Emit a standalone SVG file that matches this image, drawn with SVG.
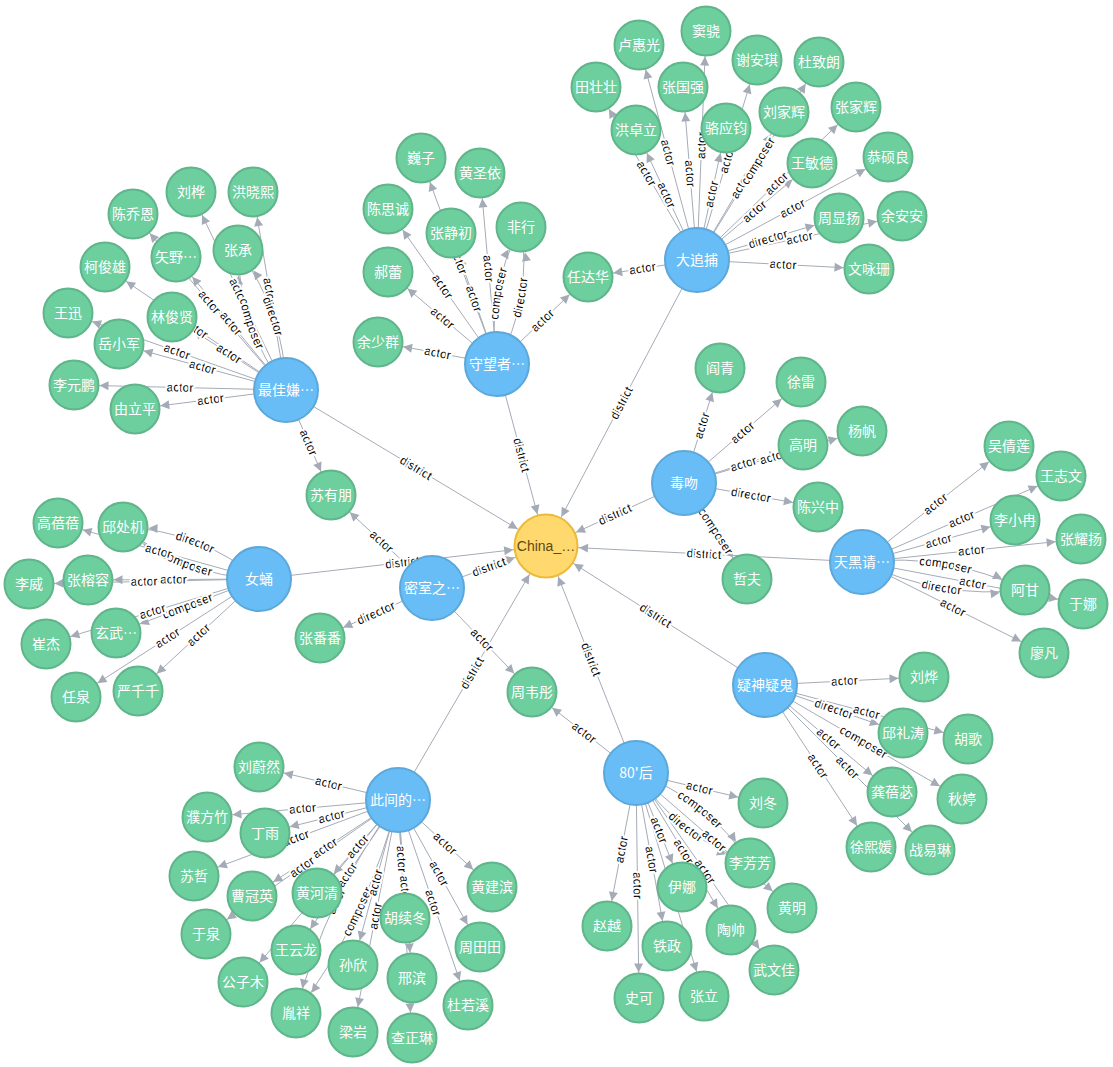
<svg xmlns="http://www.w3.org/2000/svg" width="1113" height="1067" viewBox="0 0 1113 1067">
<style>
.l{fill:none;stroke:#A5ABB6;stroke-width:1}
.g{marker-end:url(#ag)}
.gs{marker-start:url(#ag)}
.c{marker-end:url(#ac)}
.cs{marker-start:url(#ac)}
.t{font-family:"Liberation Sans",Arial,sans-serif;font-size:12px;fill:#000;stroke:#fff;stroke-width:4;stroke-linejoin:round;paint-order:stroke}
.gn circle{fill:#6DCE9E;stroke:#60B58B;stroke-width:2}
.bn circle{fill:#68BDF6;stroke:#5CA8DB;stroke-width:2}
.cn circle{fill:#FFD86E;stroke:#EDBA39;stroke-width:2}
.nd text{font-family:"Noto Sans CJK SC","Liberation Sans",sans-serif;font-size:14px;fill:#fff;text-anchor:middle}
.cn text{fill:#604A0E;font-family:"Liberation Sans","Noto Sans CJK SC",sans-serif}
</style>
<defs>
<marker id="ag" markerUnits="userSpaceOnUse" orient="auto-start-reverse" refX="25.5" refY="0" markerWidth="20" markerHeight="20" style="overflow:visible"><path d="M-9,-4.5L0,0L-9,4.5Z" fill="#A5ABB6"/></marker>
<marker id="ac" markerUnits="userSpaceOnUse" orient="auto-start-reverse" refX="33" refY="0" markerWidth="20" markerHeight="20" style="overflow:visible"><path d="M-9,-4.5L0,0L-9,4.5Z" fill="#A5ABB6"/></marker>
</defs>
<g id="connectors">
<g id="lines" class="l">
<path id="e1" class="gs" d="M588,277L697,260"/>
<path id="e2" class="gs" d="M596,87L697,260"/>
<path id="e3" class="gs" d="M636,130L697,260"/>
<path id="e4" class="gs" d="M639,45L697,260"/>
<path id="e5" class="gs" d="M683,87L697,260"/>
<path id="e6" class="g" d="M697,260L706,31"/>
<path id="e7" class="g" d="M697,260L726,128"/>
<path id="e8" class="g" d="M697,260L757,60"/>
<path id="e9" class="g" d="M697,260L784,112"/>
<path id="e10" class="g" d="M697,260L819,62"/>
<path id="e11" class="g" d="M697,260L812,163"/>
<path id="e12" class="g" d="M697,260L856,107"/>
<path id="e13" class="g" d="M697,260L888,157"/>
<path id="e14" class="g" d="M697,260L839,218"/>
<path id="e15" class="g" d="M697,260L902,216"/>
<path id="e16" class="g" d="M697,260L869,269"/>
<path id="e17" class="cs" d="M546,546L697,260"/>
<path id="e18" class="gs" d="M378,342L497,364"/>
<path id="e19" class="gs" d="M388,272L497,364"/>
<path id="e20" class="gs" d="M388,209L497,364"/>
<path id="e21" class="gs" d="M451,233L497,364"/>
<path id="e22" class="gs" d="M421,158L497,364"/>
<path id="e23" class="gs" d="M480,173L497,364"/>
<path id="e24" class="g" d="M497,364Q485.4,291.4 521,227"/>
<path id="e25" class="g" d="M497,364Q532.6,299.6 521,227"/>
<path id="e26" class="g" d="M497,364L588,277"/>
<path id="e27" class="c" d="M497,364L546,546"/>
<path id="e28" class="gs" d="M191,192L286,390"/>
<path id="e29" class="gs" d="M253,192L286,390"/>
<path id="e30" class="gs" d="M238,250Q239.3,327.8 286,390"/>
<path id="e31" class="gs" d="M238,250Q284.7,312.2 286,390"/>
<path id="e32" class="gs" d="M133,214L286,390"/>
<path id="e33" class="gs" d="M176,257L286,390"/>
<path id="e34" class="gs" d="M105,267L286,390"/>
<path id="e35" class="gs" d="M172,317L286,390"/>
<path id="e36" class="gs" d="M68,313L286,390"/>
<path id="e37" class="gs" d="M119,344L286,390"/>
<path id="e38" class="gs" d="M74,385L286,390"/>
<path id="e39" class="gs" d="M135,409L286,390"/>
<path id="e40" class="g" d="M286,390L331,495"/>
<path id="e41" class="c" d="M286,390L546,546"/>
<path id="e42" class="gs" d="M123,527Q199.6,530.6 259,579"/>
<path id="e43" class="gs" d="M123,527Q182.4,575.4 259,579"/>
<path id="e44" class="gs" d="M58,523L259,579"/>
<path id="e45" class="gs" d="M88,580L259,579"/>
<path id="e46" class="gs" d="M29,584L259,579"/>
<path id="e47" class="gs" d="M116,633L259,579"/>
<path id="e48" class="gs" d="M46,644L259,579"/>
<path id="e49" class="gs" d="M76,697L259,579"/>
<path id="e50" class="gs" d="M138,691L259,579"/>
<path id="e51" class="c" d="M259,579L546,546"/>
<path id="e52" class="gs" d="M331,495L432,588"/>
<path id="e53" class="gs" d="M320,638L432,588"/>
<path id="e54" class="g" d="M432,588L532,692"/>
<path id="e55" class="c" d="M432,588L546,546"/>
<path id="e56" class="g" d="M684,483L720,368"/>
<path id="e57" class="g" d="M684,483L801,382"/>
<path id="e58" class="g" d="M684,483L803,445"/>
<path id="e59" class="g" d="M684,483L862,431"/>
<path id="e60" class="g" d="M684,483L818,507"/>
<path id="e61" class="g" d="M684,483L747,579"/>
<path id="e62" class="cs" d="M546,546L684,483"/>
<path id="e63" class="g" d="M862,562L1009,446"/>
<path id="e64" class="g" d="M862,562L1061,476"/>
<path id="e65" class="g" d="M862,562L1015,520"/>
<path id="e66" class="g" d="M862,562L1081,539"/>
<path id="e67" class="g" d="M862,562Q947.6,552.4 1025,590"/>
<path id="e68" class="g" d="M862,562Q939.4,599.6 1025,590"/>
<path id="e69" class="g" d="M862,562L1083,604"/>
<path id="e70" class="g" d="M862,562L1044,653"/>
<path id="e71" class="cs" d="M546,546L862,562"/>
<path id="e72" class="g" d="M765,685L924,677"/>
<path id="e73" class="g" d="M765,685L903,733"/>
<path id="e74" class="g" d="M765,685L968,739"/>
<path id="e75" class="g" d="M765,685L962,799"/>
<path id="e76" class="g" d="M765,685L892,792"/>
<path id="e77" class="g" d="M765,685L930,850"/>
<path id="e78" class="g" d="M765,685L871,847"/>
<path id="e79" class="cs" d="M546,546L765,685"/>
<path id="e80" class="gs" d="M532,692L636,773"/>
<path id="e81" class="g" d="M636,773L763,803"/>
<path id="e82" class="g" d="M636,773Q707.9,799.2 750,863"/>
<path id="e83" class="g" d="M636,773Q678.1,836.8 750,863"/>
<path id="e84" class="g" d="M636,773L792,908"/>
<path id="e85" class="g" d="M636,773L682,887"/>
<path id="e86" class="g" d="M636,773L704,996"/>
<path id="e87" class="g" d="M636,773L731,930"/>
<path id="e88" class="g" d="M636,773L774,970"/>
<path id="e89" class="gs" d="M607,926L636,773"/>
<path id="e90" class="g" d="M636,773L667,946"/>
<path id="e91" class="g" d="M636,773L639,998"/>
<path id="e92" class="cs" d="M546,546L636,773"/>
<path id="e93" class="gs" d="M259,767L398,800"/>
<path id="e94" class="gs" d="M207,817L398,800"/>
<path id="e95" class="gs" d="M265,833L398,800"/>
<path id="e96" class="gs" d="M194,876L398,800"/>
<path id="e97" class="gs" d="M252,896L398,800"/>
<path id="e98" class="gs" d="M206,934L398,800"/>
<path id="e99" class="gs" d="M317,893L398,800"/>
<path id="e100" class="gs" d="M296,950L398,800"/>
<path id="e101" class="gs" d="M243,982L398,800"/>
<path id="e102" class="gs" d="M296,1013Q325.4,896.1 398,800"/>
<path id="e103" class="gs" d="M296,1013Q368.6,916.9 398,800"/>
<path id="e104" class="gs" d="M353,965L398,800"/>
<path id="e105" class="gs" d="M353,1032L398,800"/>
<path id="e106" class="g" d="M398,800L405,918"/>
<path id="e107" class="g" d="M398,800L412,978"/>
<path id="e108" class="g" d="M398,800L412,1038"/>
<path id="e109" class="g" d="M398,800L468,1005"/>
<path id="e110" class="g" d="M398,800L480,947"/>
<path id="e111" class="g" d="M398,800L492,887"/>
<path id="e112" class="c" d="M398,800L546,546"/>
</g>
<g id="labels" class="t">
<text dy="4"><textPath href="#e1" startOffset="50%" text-anchor="middle">actor</textPath></text>
<text dy="4"><textPath href="#e2" startOffset="50%" text-anchor="middle">actor</textPath></text>
<text dy="4"><textPath href="#e3" startOffset="50%" text-anchor="middle">actor</textPath></text>
<text dy="4"><textPath href="#e4" startOffset="50%" text-anchor="middle">actor</textPath></text>
<text dy="4"><textPath href="#e5" startOffset="50%" text-anchor="middle">actor</textPath></text>
<text dy="4"><textPath href="#e6" startOffset="50%" text-anchor="middle">actor</textPath></text>
<text dy="4"><textPath href="#e7" startOffset="50%" text-anchor="middle">actor</textPath></text>
<text dy="4"><textPath href="#e8" startOffset="50%" text-anchor="middle">actor</textPath></text>
<text dy="4"><textPath href="#e9" startOffset="50%" text-anchor="middle">actor</textPath></text>
<text dy="4"><textPath href="#e10" startOffset="50%" text-anchor="middle">composer</textPath></text>
<text dy="4"><textPath href="#e11" startOffset="50%" text-anchor="middle">actor</textPath></text>
<text dy="4"><textPath href="#e12" startOffset="50%" text-anchor="middle">actor</textPath></text>
<text dy="4"><textPath href="#e13" startOffset="50%" text-anchor="middle">actor</textPath></text>
<text dy="4"><textPath href="#e14" startOffset="50%" text-anchor="middle">director</textPath></text>
<text dy="4"><textPath href="#e15" startOffset="50%" text-anchor="middle">actor</textPath></text>
<text dy="4"><textPath href="#e16" startOffset="50%" text-anchor="middle">actor</textPath></text>
<text dy="4"><textPath href="#e17" startOffset="50%" text-anchor="middle">district</textPath></text>
<text dy="4"><textPath href="#e18" startOffset="50%" text-anchor="middle">actor</textPath></text>
<text dy="4"><textPath href="#e19" startOffset="50%" text-anchor="middle">actor</textPath></text>
<text dy="4"><textPath href="#e20" startOffset="50%" text-anchor="middle">actor</textPath></text>
<text dy="4"><textPath href="#e21" startOffset="50%" text-anchor="middle">actor</textPath></text>
<text dy="4"><textPath href="#e22" startOffset="50%" text-anchor="middle">actor</textPath></text>
<text dy="4"><textPath href="#e23" startOffset="50%" text-anchor="middle">actor</textPath></text>
<text dy="4"><textPath href="#e24" startOffset="50%" text-anchor="middle">composer</textPath></text>
<text dy="4"><textPath href="#e25" startOffset="50%" text-anchor="middle">director</textPath></text>
<text dy="4"><textPath href="#e26" startOffset="50%" text-anchor="middle">actor</textPath></text>
<text dy="4"><textPath href="#e27" startOffset="50%" text-anchor="middle">district</textPath></text>
<text dy="4"><textPath href="#e28" startOffset="50%" text-anchor="middle">actor</textPath></text>
<text dy="4"><textPath href="#e29" startOffset="50%" text-anchor="middle">actor</textPath></text>
<text dy="4"><textPath href="#e30" startOffset="50%" text-anchor="middle">composer</textPath></text>
<text dy="4"><textPath href="#e31" startOffset="50%" text-anchor="middle">director</textPath></text>
<text dy="4"><textPath href="#e32" startOffset="50%" text-anchor="middle">actor</textPath></text>
<text dy="4"><textPath href="#e33" startOffset="50%" text-anchor="middle">actor</textPath></text>
<text dy="4"><textPath href="#e34" startOffset="50%" text-anchor="middle">actor</textPath></text>
<text dy="4"><textPath href="#e35" startOffset="50%" text-anchor="middle">actor</textPath></text>
<text dy="4"><textPath href="#e36" startOffset="50%" text-anchor="middle">actor</textPath></text>
<text dy="4"><textPath href="#e37" startOffset="50%" text-anchor="middle">actor</textPath></text>
<text dy="4"><textPath href="#e38" startOffset="50%" text-anchor="middle">actor</textPath></text>
<text dy="4"><textPath href="#e39" startOffset="50%" text-anchor="middle">actor</textPath></text>
<text dy="4"><textPath href="#e40" startOffset="50%" text-anchor="middle">actor</textPath></text>
<text dy="4"><textPath href="#e41" startOffset="50%" text-anchor="middle">district</textPath></text>
<text dy="4"><textPath href="#e42" startOffset="50%" text-anchor="middle">director</textPath></text>
<text dy="4"><textPath href="#e43" startOffset="50%" text-anchor="middle">composer</textPath></text>
<text dy="4"><textPath href="#e44" startOffset="50%" text-anchor="middle">actor</textPath></text>
<text dy="4"><textPath href="#e45" startOffset="50%" text-anchor="middle">actor</textPath></text>
<text dy="4"><textPath href="#e46" startOffset="50%" text-anchor="middle">actor</textPath></text>
<text dy="4"><textPath href="#e47" startOffset="50%" text-anchor="middle">composer</textPath></text>
<text dy="4"><textPath href="#e48" startOffset="50%" text-anchor="middle">actor</textPath></text>
<text dy="4"><textPath href="#e49" startOffset="50%" text-anchor="middle">actor</textPath></text>
<text dy="4"><textPath href="#e50" startOffset="50%" text-anchor="middle">actor</textPath></text>
<text dy="4"><textPath href="#e51" startOffset="50%" text-anchor="middle">district</textPath></text>
<text dy="4"><textPath href="#e52" startOffset="50%" text-anchor="middle">actor</textPath></text>
<text dy="4"><textPath href="#e53" startOffset="50%" text-anchor="middle">director</textPath></text>
<text dy="4"><textPath href="#e54" startOffset="50%" text-anchor="middle">actor</textPath></text>
<text dy="4"><textPath href="#e55" startOffset="50%" text-anchor="middle">district</textPath></text>
<text dy="4"><textPath href="#e56" startOffset="50%" text-anchor="middle">actor</textPath></text>
<text dy="4"><textPath href="#e57" startOffset="50%" text-anchor="middle">actor</textPath></text>
<text dy="4"><textPath href="#e58" startOffset="50%" text-anchor="middle">actor</textPath></text>
<text dy="4"><textPath href="#e59" startOffset="50%" text-anchor="middle">actor</textPath></text>
<text dy="4"><textPath href="#e60" startOffset="50%" text-anchor="middle">director</textPath></text>
<text dy="4"><textPath href="#e61" startOffset="50%" text-anchor="middle">composer</textPath></text>
<text dy="4"><textPath href="#e62" startOffset="50%" text-anchor="middle">district</textPath></text>
<text dy="4"><textPath href="#e63" startOffset="50%" text-anchor="middle">actor</textPath></text>
<text dy="4"><textPath href="#e64" startOffset="50%" text-anchor="middle">actor</textPath></text>
<text dy="4"><textPath href="#e65" startOffset="50%" text-anchor="middle">actor</textPath></text>
<text dy="4"><textPath href="#e66" startOffset="50%" text-anchor="middle">actor</textPath></text>
<text dy="4"><textPath href="#e67" startOffset="50%" text-anchor="middle">composer</textPath></text>
<text dy="4"><textPath href="#e68" startOffset="50%" text-anchor="middle">director</textPath></text>
<text dy="4"><textPath href="#e69" startOffset="50%" text-anchor="middle">actor</textPath></text>
<text dy="4"><textPath href="#e70" startOffset="50%" text-anchor="middle">actor</textPath></text>
<text dy="4"><textPath href="#e71" startOffset="50%" text-anchor="middle">district</textPath></text>
<text dy="4"><textPath href="#e72" startOffset="50%" text-anchor="middle">actor</textPath></text>
<text dy="4"><textPath href="#e73" startOffset="50%" text-anchor="middle">director</textPath></text>
<text dy="4"><textPath href="#e74" startOffset="50%" text-anchor="middle">actor</textPath></text>
<text dy="4"><textPath href="#e75" startOffset="50%" text-anchor="middle">composer</textPath></text>
<text dy="4"><textPath href="#e76" startOffset="50%" text-anchor="middle">actor</textPath></text>
<text dy="4"><textPath href="#e77" startOffset="50%" text-anchor="middle">actor</textPath></text>
<text dy="4"><textPath href="#e78" startOffset="50%" text-anchor="middle">actor</textPath></text>
<text dy="4"><textPath href="#e79" startOffset="50%" text-anchor="middle">district</textPath></text>
<text dy="4"><textPath href="#e80" startOffset="50%" text-anchor="middle">actor</textPath></text>
<text dy="4"><textPath href="#e81" startOffset="50%" text-anchor="middle">actor</textPath></text>
<text dy="4"><textPath href="#e82" startOffset="50%" text-anchor="middle">composer</textPath></text>
<text dy="4"><textPath href="#e83" startOffset="50%" text-anchor="middle">director</textPath></text>
<text dy="4"><textPath href="#e84" startOffset="50%" text-anchor="middle">actor</textPath></text>
<text dy="4"><textPath href="#e85" startOffset="50%" text-anchor="middle">actor</textPath></text>
<text dy="4"><textPath href="#e86" startOffset="50%" text-anchor="middle">actor</textPath></text>
<text dy="4"><textPath href="#e87" startOffset="50%" text-anchor="middle">actor</textPath></text>
<text dy="4"><textPath href="#e88" startOffset="50%" text-anchor="middle">actor</textPath></text>
<text dy="4"><textPath href="#e89" startOffset="50%" text-anchor="middle">actor</textPath></text>
<text dy="4"><textPath href="#e90" startOffset="50%" text-anchor="middle">actor</textPath></text>
<text dy="4"><textPath href="#e91" startOffset="50%" text-anchor="middle">actor</textPath></text>
<text dy="4"><textPath href="#e92" startOffset="50%" text-anchor="middle">district</textPath></text>
<text dy="4"><textPath href="#e93" startOffset="50%" text-anchor="middle">actor</textPath></text>
<text dy="4"><textPath href="#e94" startOffset="50%" text-anchor="middle">actor</textPath></text>
<text dy="4"><textPath href="#e95" startOffset="50%" text-anchor="middle">actor</textPath></text>
<text dy="4"><textPath href="#e96" startOffset="50%" text-anchor="middle">actor</textPath></text>
<text dy="4"><textPath href="#e97" startOffset="50%" text-anchor="middle">actor</textPath></text>
<text dy="4"><textPath href="#e98" startOffset="50%" text-anchor="middle">actor</textPath></text>
<text dy="4"><textPath href="#e99" startOffset="50%" text-anchor="middle">actor</textPath></text>
<text dy="4"><textPath href="#e100" startOffset="50%" text-anchor="middle">actor</textPath></text>
<text dy="4"><textPath href="#e101" startOffset="50%" text-anchor="middle">actor</textPath></text>
<text dy="4"><textPath href="#e102" startOffset="50%" text-anchor="middle">actor</textPath></text>
<text dy="4"><textPath href="#e103" startOffset="50%" text-anchor="middle">composer</textPath></text>
<text dy="4"><textPath href="#e104" startOffset="50%" text-anchor="middle">actor</textPath></text>
<text dy="4"><textPath href="#e105" startOffset="50%" text-anchor="middle">actor</textPath></text>
<text dy="4"><textPath href="#e106" startOffset="50%" text-anchor="middle">actor</textPath></text>
<text dy="4"><textPath href="#e107" startOffset="50%" text-anchor="middle">actor</textPath></text>
<text dy="4"><textPath href="#e108" startOffset="50%" text-anchor="middle">actor</textPath></text>
<text dy="4"><textPath href="#e109" startOffset="50%" text-anchor="middle">actor</textPath></text>
<text dy="4"><textPath href="#e110" startOffset="50%" text-anchor="middle">actor</textPath></text>
<text dy="4"><textPath href="#e111" startOffset="50%" text-anchor="middle">actor</textPath></text>
<text dy="4"><textPath href="#e112" startOffset="50%" text-anchor="middle">district</textPath></text>
</g>
</g>
<g id="nodes">
<g id="china" class="nd cn" transform="translate(546,546)"><circle r="31.5"/><text dy="5">China_…</text></g>
<g id="b1" class="nd bn" transform="translate(697,260)"><circle r="32"/><text dy=".36em">大追捕</text></g>
<g id="b2" class="nd bn" transform="translate(497,364)"><circle r="32"/><text dy=".36em">守望者…</text></g>
<g id="b3" class="nd bn" transform="translate(286,390)"><circle r="32"/><text dy=".36em">最佳嫌…</text></g>
<g id="b4" class="nd bn" transform="translate(684,483)"><circle r="32"/><text dy=".36em">毒吻</text></g>
<g id="b5" class="nd bn" transform="translate(862,562)"><circle r="32"/><text dy=".36em">天黑请…</text></g>
<g id="b6" class="nd bn" transform="translate(259,579)"><circle r="32"/><text dy=".36em">女蛹</text></g>
<g id="b7" class="nd bn" transform="translate(432,588)"><circle r="32"/><text dy=".36em">密室之…</text></g>
<g id="b8" class="nd bn" transform="translate(765,685)"><circle r="32"/><text dy=".36em">疑神疑鬼</text></g>
<g id="b9" class="nd bn" transform="translate(636,773)"><circle r="32"/><text dy=".36em">80'后</text></g>
<g id="b10" class="nd bn" transform="translate(398,800)"><circle r="32"/><text dy=".36em">此间的…</text></g>
<g id="g1" class="nd gn" transform="translate(588,277)"><circle r="24.5"/><text dy=".36em">任达华</text></g>
<g id="g2" class="nd gn" transform="translate(596,87)"><circle r="24.5"/><text dy=".36em">田壮壮</text></g>
<g id="g3" class="nd gn" transform="translate(636,130)"><circle r="24.5"/><text dy=".36em">洪卓立</text></g>
<g id="g4" class="nd gn" transform="translate(639,45)"><circle r="24.5"/><text dy=".36em">卢惠光</text></g>
<g id="g5" class="nd gn" transform="translate(683,87)"><circle r="24.5"/><text dy=".36em">张国强</text></g>
<g id="g6" class="nd gn" transform="translate(706,31)"><circle r="24.5"/><text dy=".36em">窦骁</text></g>
<g id="g7" class="nd gn" transform="translate(726,128)"><circle r="24.5"/><text dy=".36em">骆应钧</text></g>
<g id="g8" class="nd gn" transform="translate(757,60)"><circle r="24.5"/><text dy=".36em">谢安琪</text></g>
<g id="g9" class="nd gn" transform="translate(784,112)"><circle r="24.5"/><text dy=".36em">刘家辉</text></g>
<g id="g10" class="nd gn" transform="translate(819,62)"><circle r="24.5"/><text dy=".36em">杜致朗</text></g>
<g id="g11" class="nd gn" transform="translate(812,163)"><circle r="24.5"/><text dy=".36em">王敏德</text></g>
<g id="g12" class="nd gn" transform="translate(856,107)"><circle r="24.5"/><text dy=".36em">张家辉</text></g>
<g id="g13" class="nd gn" transform="translate(888,157)"><circle r="24.5"/><text dy=".36em">恭硕良</text></g>
<g id="g14" class="nd gn" transform="translate(839,218)"><circle r="24.5"/><text dy=".36em">周显扬</text></g>
<g id="g15" class="nd gn" transform="translate(902,216)"><circle r="24.5"/><text dy=".36em">余安安</text></g>
<g id="g16" class="nd gn" transform="translate(869,269)"><circle r="24.5"/><text dy=".36em">文咏珊</text></g>
<g id="g17" class="nd gn" transform="translate(378,342)"><circle r="24.5"/><text dy=".36em">余少群</text></g>
<g id="g18" class="nd gn" transform="translate(388,272)"><circle r="24.5"/><text dy=".36em">郝蕾</text></g>
<g id="g19" class="nd gn" transform="translate(388,209)"><circle r="24.5"/><text dy=".36em">陈思诚</text></g>
<g id="g20" class="nd gn" transform="translate(451,233)"><circle r="24.5"/><text dy=".36em">张静初</text></g>
<g id="g21" class="nd gn" transform="translate(421,158)"><circle r="24.5"/><text dy=".36em">巍子</text></g>
<g id="g22" class="nd gn" transform="translate(480,173)"><circle r="24.5"/><text dy=".36em">黄圣依</text></g>
<g id="g23" class="nd gn" transform="translate(521,227)"><circle r="24.5"/><text dy=".36em">非行</text></g>
<g id="g24" class="nd gn" transform="translate(191,192)"><circle r="24.5"/><text dy=".36em">刘桦</text></g>
<g id="g25" class="nd gn" transform="translate(253,192)"><circle r="24.5"/><text dy=".36em">洪晓熙</text></g>
<g id="g26" class="nd gn" transform="translate(238,250)"><circle r="24.5"/><text dy=".36em">张承</text></g>
<g id="g27" class="nd gn" transform="translate(133,214)"><circle r="24.5"/><text dy=".36em">陈乔恩</text></g>
<g id="g28" class="nd gn" transform="translate(176,257)"><circle r="24.5"/><text dy=".36em">矢野…</text></g>
<g id="g29" class="nd gn" transform="translate(105,267)"><circle r="24.5"/><text dy=".36em">柯俊雄</text></g>
<g id="g30" class="nd gn" transform="translate(172,317)"><circle r="24.5"/><text dy=".36em">林俊贤</text></g>
<g id="g31" class="nd gn" transform="translate(68,313)"><circle r="24.5"/><text dy=".36em">王迅</text></g>
<g id="g32" class="nd gn" transform="translate(119,344)"><circle r="24.5"/><text dy=".36em">岳小军</text></g>
<g id="g33" class="nd gn" transform="translate(74,385)"><circle r="24.5"/><text dy=".36em">李元鹏</text></g>
<g id="g34" class="nd gn" transform="translate(135,409)"><circle r="24.5"/><text dy=".36em">由立平</text></g>
<g id="g35" class="nd gn" transform="translate(331,495)"><circle r="24.5"/><text dy=".36em">苏有朋</text></g>
<g id="g36" class="nd gn" transform="translate(123,527)"><circle r="24.5"/><text dy=".36em">邱处机</text></g>
<g id="g37" class="nd gn" transform="translate(58,523)"><circle r="24.5"/><text dy=".36em">高蓓蓓</text></g>
<g id="g38" class="nd gn" transform="translate(88,580)"><circle r="24.5"/><text dy=".36em">张榕容</text></g>
<g id="g39" class="nd gn" transform="translate(29,584)"><circle r="24.5"/><text dy=".36em">李威</text></g>
<g id="g40" class="nd gn" transform="translate(116,633)"><circle r="24.5"/><text dy=".36em">玄武…</text></g>
<g id="g41" class="nd gn" transform="translate(46,644)"><circle r="24.5"/><text dy=".36em">崔杰</text></g>
<g id="g42" class="nd gn" transform="translate(76,697)"><circle r="24.5"/><text dy=".36em">任泉</text></g>
<g id="g43" class="nd gn" transform="translate(138,691)"><circle r="24.5"/><text dy=".36em">严千千</text></g>
<g id="g44" class="nd gn" transform="translate(320,638)"><circle r="24.5"/><text dy=".36em">张番番</text></g>
<g id="g45" class="nd gn" transform="translate(532,692)"><circle r="24.5"/><text dy=".36em">周韦彤</text></g>
<g id="g46" class="nd gn" transform="translate(720,368)"><circle r="24.5"/><text dy=".36em">阎青</text></g>
<g id="g47" class="nd gn" transform="translate(801,382)"><circle r="24.5"/><text dy=".36em">徐雷</text></g>
<g id="g48" class="nd gn" transform="translate(803,445)"><circle r="24.5"/><text dy=".36em">高明</text></g>
<g id="g49" class="nd gn" transform="translate(862,431)"><circle r="24.5"/><text dy=".36em">杨帆</text></g>
<g id="g50" class="nd gn" transform="translate(818,507)"><circle r="24.5"/><text dy=".36em">陈兴中</text></g>
<g id="g51" class="nd gn" transform="translate(747,579)"><circle r="24.5"/><text dy=".36em">哲夫</text></g>
<g id="g52" class="nd gn" transform="translate(1009,446)"><circle r="24.5"/><text dy=".36em">吴倩莲</text></g>
<g id="g53" class="nd gn" transform="translate(1061,476)"><circle r="24.5"/><text dy=".36em">王志文</text></g>
<g id="g54" class="nd gn" transform="translate(1015,520)"><circle r="24.5"/><text dy=".36em">李小冉</text></g>
<g id="g55" class="nd gn" transform="translate(1081,539)"><circle r="24.5"/><text dy=".36em">张耀扬</text></g>
<g id="g56" class="nd gn" transform="translate(1025,590)"><circle r="24.5"/><text dy=".36em">阿甘</text></g>
<g id="g57" class="nd gn" transform="translate(1083,604)"><circle r="24.5"/><text dy=".36em">于娜</text></g>
<g id="g58" class="nd gn" transform="translate(1044,653)"><circle r="24.5"/><text dy=".36em">廖凡</text></g>
<g id="g59" class="nd gn" transform="translate(924,677)"><circle r="24.5"/><text dy=".36em">刘烨</text></g>
<g id="g60" class="nd gn" transform="translate(903,733)"><circle r="24.5"/><text dy=".36em">邱礼涛</text></g>
<g id="g61" class="nd gn" transform="translate(968,739)"><circle r="24.5"/><text dy=".36em">胡歌</text></g>
<g id="g62" class="nd gn" transform="translate(892,792)"><circle r="24.5"/><text dy=".36em">龚蓓苾</text></g>
<g id="g63" class="nd gn" transform="translate(962,799)"><circle r="24.5"/><text dy=".36em">秋婷</text></g>
<g id="g64" class="nd gn" transform="translate(871,847)"><circle r="24.5"/><text dy=".36em">徐熙媛</text></g>
<g id="g65" class="nd gn" transform="translate(930,850)"><circle r="24.5"/><text dy=".36em">战易琳</text></g>
<g id="g66" class="nd gn" transform="translate(763,803)"><circle r="24.5"/><text dy=".36em">刘冬</text></g>
<g id="g67" class="nd gn" transform="translate(750,863)"><circle r="24.5"/><text dy=".36em">李芳芳</text></g>
<g id="g68" class="nd gn" transform="translate(792,908)"><circle r="24.5"/><text dy=".36em">黄明</text></g>
<g id="g69" class="nd gn" transform="translate(682,887)"><circle r="24.5"/><text dy=".36em">伊娜</text></g>
<g id="g70" class="nd gn" transform="translate(607,926)"><circle r="24.5"/><text dy=".36em">赵越</text></g>
<g id="g71" class="nd gn" transform="translate(731,930)"><circle r="24.5"/><text dy=".36em">陶帅</text></g>
<g id="g72" class="nd gn" transform="translate(667,946)"><circle r="24.5"/><text dy=".36em">铁政</text></g>
<g id="g73" class="nd gn" transform="translate(774,970)"><circle r="24.5"/><text dy=".36em">武文佳</text></g>
<g id="g74" class="nd gn" transform="translate(639,998)"><circle r="24.5"/><text dy=".36em">史可</text></g>
<g id="g75" class="nd gn" transform="translate(704,996)"><circle r="24.5"/><text dy=".36em">张立</text></g>
<g id="g76" class="nd gn" transform="translate(259,767)"><circle r="24.5"/><text dy=".36em">刘蔚然</text></g>
<g id="g77" class="nd gn" transform="translate(207,817)"><circle r="24.5"/><text dy=".36em">濮方竹</text></g>
<g id="g78" class="nd gn" transform="translate(265,833)"><circle r="24.5"/><text dy=".36em">丁雨</text></g>
<g id="g79" class="nd gn" transform="translate(194,876)"><circle r="24.5"/><text dy=".36em">苏哲</text></g>
<g id="g80" class="nd gn" transform="translate(252,896)"><circle r="24.5"/><text dy=".36em">曹冠英</text></g>
<g id="g81" class="nd gn" transform="translate(317,893)"><circle r="24.5"/><text dy=".36em">黄河清</text></g>
<g id="g82" class="nd gn" transform="translate(492,887)"><circle r="24.5"/><text dy=".36em">黄建滨</text></g>
<g id="g83" class="nd gn" transform="translate(206,934)"><circle r="24.5"/><text dy=".36em">于泉</text></g>
<g id="g84" class="nd gn" transform="translate(296,950)"><circle r="24.5"/><text dy=".36em">王云龙</text></g>
<g id="g85" class="nd gn" transform="translate(405,918)"><circle r="24.5"/><text dy=".36em">胡续冬</text></g>
<g id="g86" class="nd gn" transform="translate(480,947)"><circle r="24.5"/><text dy=".36em">周田田</text></g>
<g id="g87" class="nd gn" transform="translate(353,965)"><circle r="24.5"/><text dy=".36em">孙欣</text></g>
<g id="g88" class="nd gn" transform="translate(243,982)"><circle r="24.5"/><text dy=".36em">公子木</text></g>
<g id="g89" class="nd gn" transform="translate(412,978)"><circle r="24.5"/><text dy=".36em">邢滨</text></g>
<g id="g90" class="nd gn" transform="translate(468,1005)"><circle r="24.5"/><text dy=".36em">杜若溪</text></g>
<g id="g91" class="nd gn" transform="translate(296,1013)"><circle r="24.5"/><text dy=".36em">胤祥</text></g>
<g id="g92" class="nd gn" transform="translate(353,1032)"><circle r="24.5"/><text dy=".36em">梁岩</text></g>
<g id="g93" class="nd gn" transform="translate(412,1038)"><circle r="24.5"/><text dy=".36em">查正琳</text></g>
</g>
</svg>
